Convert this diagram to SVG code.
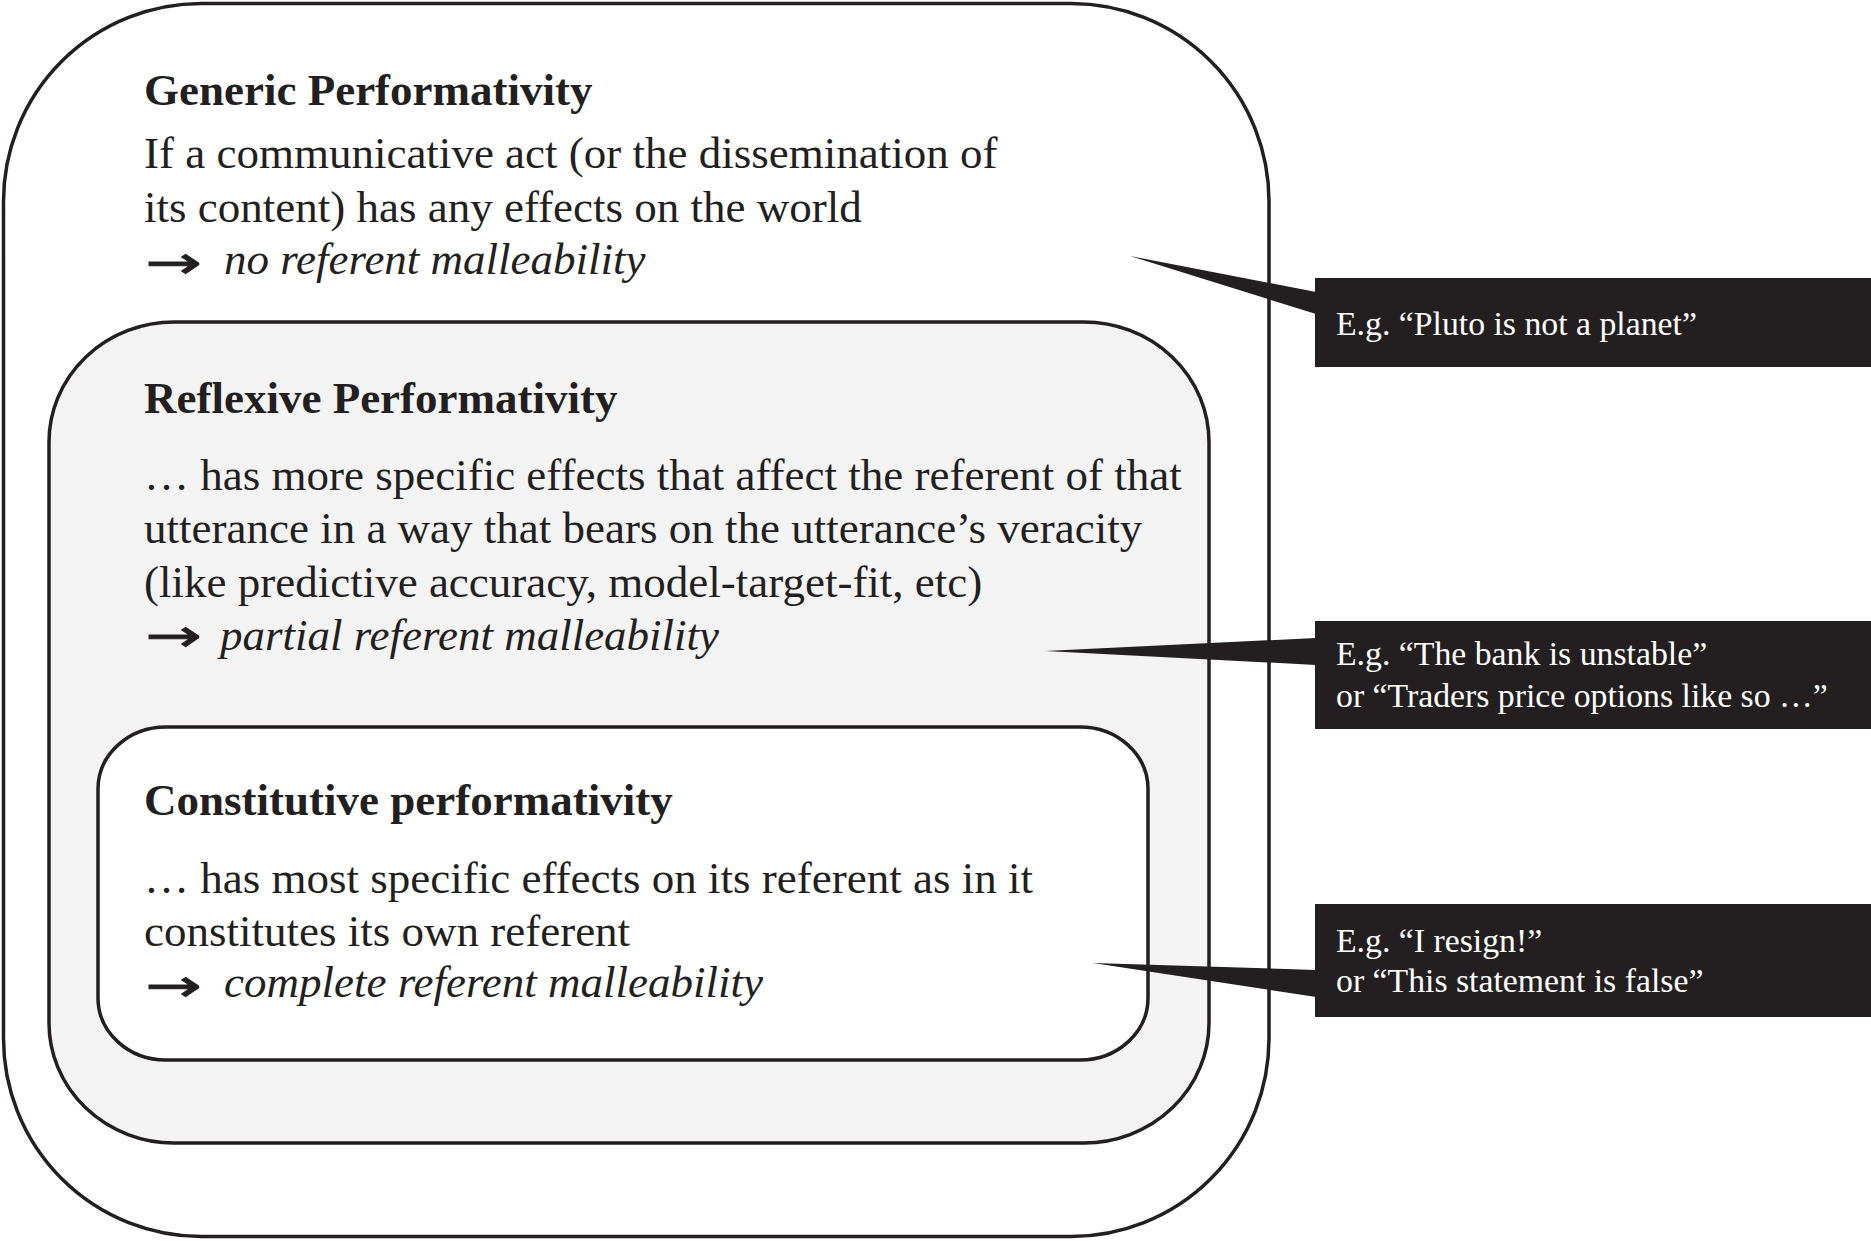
<svg xmlns="http://www.w3.org/2000/svg" width="1871" height="1241" viewBox="0 0 1871 1241">
<style>
.box{stroke:#231f20;stroke-width:3.5}
.t{font-family:"Liberation Serif","Times New Roman",serif;font-size:45px;fill:#231f20}
.b{font-weight:bold}
.i{font-style:italic}
.a{font-family:"DejaVu Sans",sans-serif;font-size:45px;fill:#231f20;stroke:#231f20;stroke-width:0.9}
.c{font-family:"Liberation Serif","Times New Roman",serif;font-size:33.75px;fill:#ffffff}
.cb{fill:#231f20}
.w{fill:#231f20}
</style>
<rect width="1871" height="1241" fill="#ffffff"/>
<g id="generic">
<rect class="box" x="3.5" y="3.5" width="1265.5" height="1233" rx="198" ry="198" fill="#ffffff"/>
<text class="t b" x="144" y="105">Generic Performativity</text>
<text class="t" x="144" y="168">If a communicative act (or the dissemination of</text>
<text class="t" x="144" y="222">its content) has any effects on the world</text>
<text class="a" transform="translate(145,278) scale(1.5,1)">→</text>
<text class="t i" x="224" y="274">no referent malleability</text>
</g>
<g id="reflexive">
<rect class="box" x="49" y="322" width="1160" height="821" rx="125" ry="120" fill="#f3f3f4"/>
<text class="t b" x="144" y="413">Reflexive Performativity</text>
<text class="t" x="144" y="490">… has more specific effects that affect the referent of that</text>
<text class="t" x="144" y="543">utterance in a way that bears on the utterance’s veracity</text>
<text class="t" x="144" y="597">(like predictive accuracy, model-target-fit, etc)</text>
<text class="a" transform="translate(145,651) scale(1.5,1)">→</text>
<text class="t i" x="220" y="650">partial referent malleability</text>
</g>
<g id="constitutive">
<rect class="box" x="98" y="727" width="1050" height="333" rx="68" ry="62" fill="#ffffff"/>
<text class="t b" x="144" y="815">Constitutive performativity</text>
<text class="t" x="144" y="893">… has most specific effects on its referent as in it</text>
<text class="t" x="144" y="946">constitutes its own referent</text>
<text class="a" transform="translate(145,1001) scale(1.5,1)">→</text>
<text class="t i" x="224" y="997">complete referent malleability</text>
</g>
<g id="connectors">
<polygon class="w" points="1130,256 1316,292 1316,314"/>
<polygon class="w" points="1045,651 1316,638 1316,665"/>
<polygon class="w" points="1093,963 1316,970 1316,997"/>
</g>
<g id="example1">
<rect class="cb" x="1315" y="278" width="556" height="89"/>
<text class="c" x="1336" y="335">E.g. “Pluto is not a planet”</text>
</g>
<g id="example2">
<rect class="cb" x="1315" y="621" width="556" height="108"/>
<text class="c" x="1336" y="665">E.g. “The bank is unstable”</text>
<text class="c" x="1336" y="707">or “Traders price options like so …”</text>
</g>
<g id="example3">
<rect class="cb" x="1315" y="904" width="556" height="113"/>
<text class="c" x="1336" y="952">E.g. “I resign!”</text>
<text class="c" x="1336" y="992">or “This statement is false”</text>
</g>
</svg>
